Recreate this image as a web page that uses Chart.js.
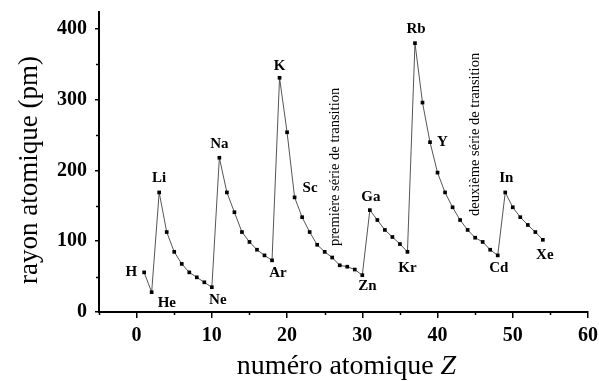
<!DOCTYPE html>
<html lang="fr">
  <head>
    <meta charset="UTF-8" />
    <title>Rayon atomique</title>
    <script src="https://cdn.jsdelivr.net/npm/chart.js"></script>
    <style>
      * {
        margin: 0;
        padding: 0;
        box-sizing: border-box;
      }
      body {
        background: #fff;
      }
      .wrap {
        width: 599px;
        height: 381px;
      }
    </style>
  </head>
  <body>
    <div class="wrap"><canvas id="chart"></canvas></div>

    <script>
      // numéro atomique Z = 1..54
      const atomicNumbers = [
        1, 2, 3, 4, 5, 6, 7, 8, 9, 10, 11, 12, 13, 14, 15, 16, 17, 18, 19, 20,
        21, 22, 23, 24, 25, 26, 27, 28, 29, 30, 31, 32, 33, 34, 35, 36, 37, 38,
        39, 40, 41, 42, 43, 44, 45, 46, 47, 48, 49, 50, 51, 52, 53, 54,
      ];
      // rayon atomique (pm)
      const radii = [
        56, 28, 169, 113, 85, 68, 56, 49, 42, 35, 218, 169, 141, 113, 99, 88,
        80, 73, 331, 254, 162, 134, 113, 95, 85, 77, 66, 64, 60, 52, 144, 130,
        116, 106, 96, 85, 380, 296, 240, 197, 169, 148, 130, 116, 105, 99, 88,
        80, 169, 148, 134, 123, 113, 102,
      ];
      // éléments annotés
      const labelledZ = [1, 2, 3, 10, 11, 18, 19, 21, 30, 31, 36, 37, 39, 48, 49, 54];
      const labelledSymbols = ["H", "He", "Li", "Ne", "Na", "Ar", "K", "Sc", "Zn", "Ga", "Kr", "Rb", "Y", "Cd", "In", "Xe"];
      const seriesNotes = ["première série de transition", "deuxième série de transition"];
      const seriesNoteZ = [26.4, 45];
      const seriesNoteR = [205, 251];
      const xMajorTicks = [0, 10, 20, 30, 40, 50, 60];
      const xMinorTicks = [-5, 5, 15, 25, 35, 45, 55];
      const yMajorTicks = [0, 100, 200, 300, 400];
      const yMinorTicks = [50, 150, 250, 350];

      // décalage du texte par rapport au point (dx, dy, alignement)
      const placement = {
        H: [-7, 0, "right"],
        He: [6, 11, "left"],
        Li: [0, -14, "center"],
        Ne: [6, 13, "center"],
        Na: [0, -14, "center"],
        Ar: [6, 13, "center"],
        K: [0, -12, "center"],
        Sc: [8, -9, "left"],
        Zn: [5, 11, "center"],
        Ga: [1, -13, "center"],
        Kr: [0, 16, "center"],
        Rb: [1, -14, "center"],
        Y: [7, 0, "left"],
        Cd: [1, 13, "center"],
        In: [1, -14, "center"],
        Xe: [2, 15, "center"],
      };

      const serif = "'Liberation Serif', 'DejaVu Serif', serif";

      const annotations = {
        id: "annotations",
        afterDatasetsDraw(chart) {
          const c = chart.ctx;
          const xs = chart.scales.x;
          const ys = chart.scales.y;
          const area = chart.chartArea;
          c.save();

          // petites graduations
          c.strokeStyle = "#000";
          c.lineWidth = 1.5;
          c.beginPath();
          xMinorTicks.forEach((v) => {
            const px = Math.round(xs.getPixelForValue(v)) + 0.5;
            c.moveTo(px, area.bottom);
            c.lineTo(px, area.bottom + 3);
          });
          yMinorTicks.forEach((v) => {
            const py = Math.round(ys.getPixelForValue(v)) + 0.5;
            c.moveTo(area.left, py);
            c.lineTo(area.left - 3, py);
          });
          c.stroke();

          c.fillStyle = "#000";
          c.textBaseline = "middle";
          c.font = "bold 15px " + serif;
          labelledZ.forEach((z, i) => {
            const sym = labelledSymbols[i];
            const p = placement[sym];
            c.textAlign = p[2];
            c.fillText(
              sym,
              xs.getPixelForValue(z) + p[0],
              ys.getPixelForValue(radii[z - 1]) + p[1]
            );
          });
          c.font = "14.5px " + serif;
          c.textAlign = "center";
          seriesNotes.forEach((t, i) => {
            c.save();
            c.translate(
              xs.getPixelForValue(seriesNoteZ[i]),
              ys.getPixelForValue(seriesNoteR[i])
            );
            c.rotate(-Math.PI / 2);
            c.fillText(t, 0, 0);
            c.restore();
          });

          // titres des axes
          c.font = "27px " + serif;
          c.save();
          c.translate(30, (area.top + area.bottom) / 2 + 8);
          c.rotate(-Math.PI / 2);
          c.textAlign = "center";
          c.fillText("rayon atomique (pm)", 0, 0);
          c.restore();

          const part1 = "numéro atomique ";
          c.font = "28px " + serif;
          const w1 = c.measureText(part1).width;
          c.font = "italic 28px " + serif;
          const w2 = c.measureText("Z").width;
          const cx = (xs.getPixelForValue(-5) + xs.getPixelForValue(60)) / 2 + 3;
          const startX = cx - (w1 + w2) / 2;
          c.textAlign = "left";
          c.font = "28px " + serif;
          c.fillText(part1, startX, 367);
          c.font = "italic 28px " + serif;
          c.fillText("Z", startX + w1, 367);
          c.restore();
        },
      };

      const ctx = document.getElementById("chart").getContext("2d");
      new Chart(ctx, {
        type: "line",
        data: {
          datasets: [
            {
              data: atomicNumbers.map((z, i) => ({ x: z, y: radii[i] })),
              borderColor: "#555",
              borderWidth: 1,
              pointStyle: "rect",
              pointRadius: 2.6,
              pointBackgroundColor: "#000",
              pointBorderColor: "#000",
              pointBorderWidth: 0,
              tension: 0,
            },
          ],
        },
        options: {
          responsive: true,
          maintainAspectRatio: false,
          animation: false,
          events: [],
          layout: { padding: { top: 12, right: 11, left: 0, bottom: 0 } },
          plugins: { legend: { display: false }, tooltip: { enabled: false } },
          scales: {
            x: {
              type: "linear",
              min: -5,
              max: 60,
              afterFit(s) {
                s.height = 69;
                s.paddingLeft = 0;
                s.paddingRight = 0;
              },
              afterBuildTicks(s) {
                s.ticks = xMajorTicks.map((v) => ({ value: v }));
              },
              ticks: {
                color: "#000",
                font: { family: serif, size: 20, weight: "bold" },
                padding: 6,
                maxRotation: 0,
                autoSkip: false,
              },
              grid: {
                display: true,
                drawOnChartArea: false,
                drawTicks: true,
                tickLength: 6,
                color: "#000",
                lineWidth: 1.5,
              },
              border: { display: true, color: "#000", width: 2 },
            },
            y: {
              type: "linear",
              min: 0,
              max: 424,
              afterFit(s) {
                s.width = 99;
                s.paddingTop = 0;
                s.paddingBottom = 0;
              },
              afterBuildTicks(s) {
                s.ticks = yMajorTicks.map((v) => ({ value: v }));
              },
              ticks: {
                color: "#000",
                font: { family: serif, size: 20, weight: "bold" },
                padding: 8,
                autoSkip: false,
              },
              grid: {
                display: true,
                drawOnChartArea: false,
                drawTicks: true,
                tickLength: 4,
                color: "#000",
                lineWidth: 1.5,
              },
              border: { display: true, color: "#000", width: 2 },
            },
          },
        },
        plugins: [annotations],
      });
    </script>
  </body>
</html>
